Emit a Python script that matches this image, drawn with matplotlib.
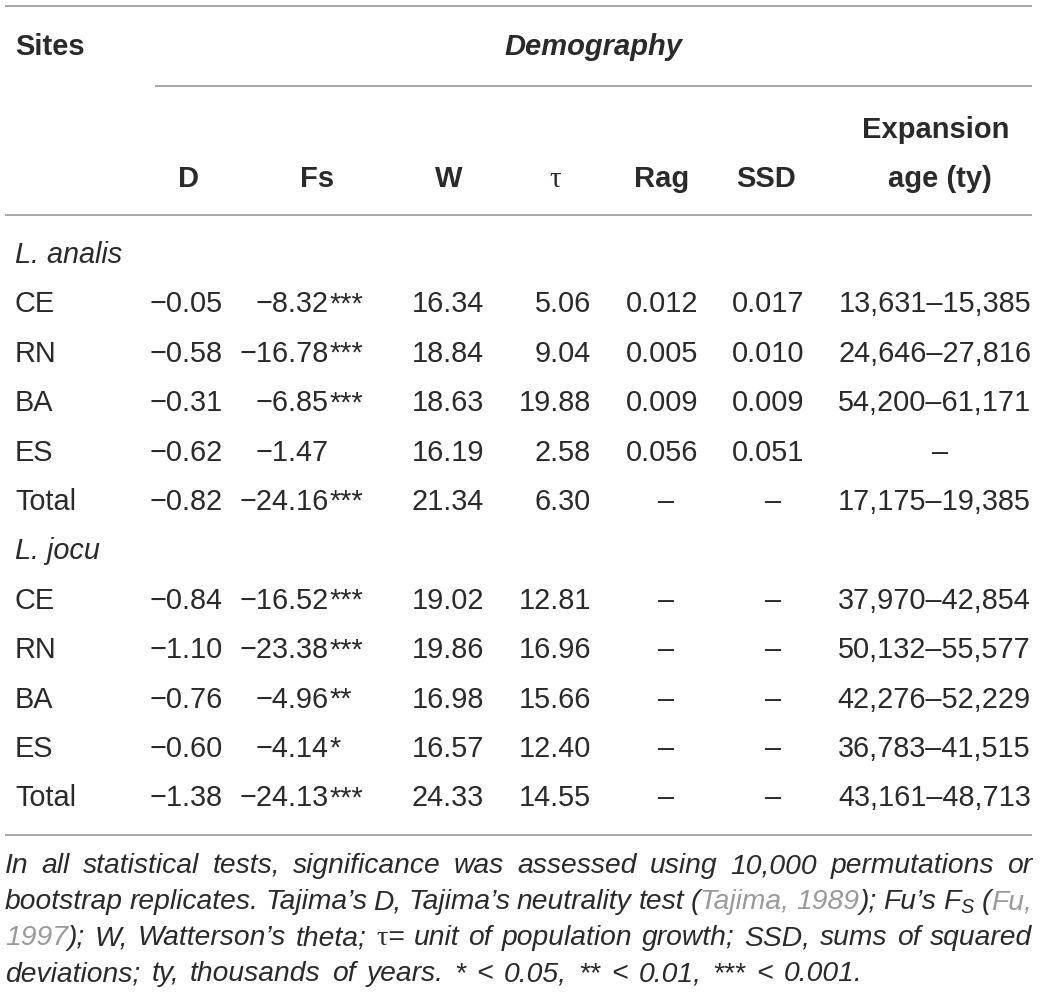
import matplotlib.pyplot as plt

plt.rcParams['font.family'] = ['Liberation Sans', 'DejaVu Sans']
plt.rcParams['mathtext.fontset'] = 'custom'
plt.rcParams['mathtext.rm'] = 'Liberation Sans:italic'
plt.rcParams['mathtext.it'] = 'Liberation Sans:italic'

# table data
groups = ['L. analis', 'L. jocu']
sites = ['CE', 'RN', 'BA', 'ES', 'Total']
tajima_d = [[-0.05, -0.58, -0.31, -0.62, -0.82],
            [-0.84, -1.10, -0.76, -0.60, -1.38]]
fu_fs = [[-8.32, -16.78, -6.85, -1.47, -24.16],
         [-16.52, -23.38, -4.96, -4.14, -24.13]]
fs_stars = [['***', '***', '***', '', '***'],
            ['***', '***', '**', '*', '***']]
watterson = [[16.34, 18.84, 18.63, 16.19, 21.34],
             [19.02, 19.86, 16.98, 16.57, 24.33]]
tau = [[5.06, 9.04, 19.88, 2.58, 6.30],
       [12.81, 16.96, 15.66, 12.40, 14.55]]
rag = [[0.012, 0.005, 0.009, 0.056, None],
       [None, None, None, None, None]]
ssd = [[0.017, 0.010, 0.009, 0.051, None],
       [None, None, None, None, None]]
expansion = [[(13631, 15385), (24646, 27816), (54200, 61171), None, (17175, 19385)],
             [(37970, 42854), (50132, 55577), (42276, 52229), (36783, 41515), (43161, 48713)]]

col_headers = ['D', 'Fs', 'W', 'τ', 'Rag', 'SSD']

INK = '#2a2a2a'
GREY = '#9a9a9a'
RULE = '#a0a0a0'
FS = 20.8      # body text
FS_HEAD = 21   # bold headers
FS_NOTE = 20.3 # footnote

fig = plt.figure(figsize=(10.41, 9.97), dpi=100)
ax = fig.add_axes([0, 0, 1, 1])
ax.set_xlim(0, 1041)
ax.set_ylim(997, 0)
ax.axis('off')


def num(v, nd=2):
    return f'{v:.{nd}f}'.replace('-', '\u2212')


# rules
for x0, y in [(5, 6), (155, 86), (5, 215), (5, 835)]:
    ax.plot([x0, 1032], [y, y], color=RULE, lw=1.3, solid_capstyle='butt')

# header
ax.text(15, 55, 'Sites', fontsize=FS_HEAD, fontweight='bold', color=INK, va='baseline')
ax.text(593, 55, 'Demography', fontsize=FS_HEAD, fontweight='bold', style='italic',
        color=INK, va='baseline', ha='center')
head_x = [188, 317, 449, 555, 662, 766]
for h, x in zip(col_headers, head_x):
    if h == 'τ':
        ax.text(x, 187, h, fontsize=FS, color=INK, ha='center', va='baseline',
                family='Liberation Serif')
    else:
        ax.text(x, 187, h, fontsize=FS_HEAD, fontweight='bold', color=INK,
                ha='center', va='baseline')
ax.text(936, 138, 'Expansion', fontsize=FS_HEAD, fontweight='bold', color=INK,
        ha='center', va='baseline')
ax.text(940, 187, 'age (ty)', fontsize=FS_HEAD, fontweight='bold', color=INK,
        ha='center', va='baseline')

# body
row_step = 49.4
y = 263
for g in range(len(groups)):
    ax.text(15, y, groups[g], fontsize=FS, style='italic', color=INK, va='baseline')
    y += row_step
    for i, s in enumerate(sites):
        kw = dict(fontsize=FS, color=INK, va='baseline')
        ax.text(15, y, s, **kw)
        ax.text(223, y, num(tajima_d[g][i]), ha='right', **kw)
        ax.text(329, y, num(fu_fs[g][i]), ha='right', **kw)
        if fs_stars[g][i]:
            ax.text(330, y, fs_stars[g][i], ha='left', **kw)
        ax.text(484, y, num(watterson[g][i]), ha='right', **kw)
        ax.text(591, y, num(tau[g][i]), ha='right', **kw)
        if rag[g][i] is None:
            ax.text(666, y, '–', ha='center', **kw)
        else:
            ax.text(698, y, num(rag[g][i], 3), ha='right', **kw)
        if ssd[g][i] is None:
            ax.text(773, y, '–', ha='center', **kw)
        else:
            ax.text(804, y, num(ssd[g][i], 3), ha='right', **kw)
        e = expansion[g][i]
        if e is None:
            ax.text(940, y, '–', ha='center', **kw)
        else:
            ax.text(1031, y, f'{e[0]:,}–{e[1]:,}', ha='right', **kw)
        y += row_step

# footnote, justified word by word
K, G = INK, GREY
note_lines = [
    [[('In', K)], [('all', K)], [('statistical', K)], [('tests,', K)],
     [('significance', K)], [('was', K)], [('assessed', K)], [('using', K)],
     [('10,000', K)], [('permutations', K)], [('or', K)]],
    [[('bootstrap', K)], [('replicates.', K)], [('Tajima’s', K)], [('D,', K)],
     [('Tajima’s', K)], [('neutrality', K)], [('test', K)],
     [('(', K), ('Tajima,', G)], [('1989', G), (');', K)], [('Fu’s', K)],
     [('F$_{\\mathregular{S}}$', K)], [('(', K), ('Fu,', G)]],
    [[('1997', G), (');', K)], [('W,', K)], [('Watterson’s', K)], [('theta;', K)],
     [('τ', 'tau'), ('=', K)], [('unit', K)], [('of', K)], [('population', K)],
     [('growth;', K)], [('SSD,', K)], [('sums', K)], [('of', K)], [('squared', K)]],
    [[('deviations;', K)], [('ty,', K)], [('thousands', K)], [('of', K)],
     [('years.', K)], [('*', K)], [('<', K)], [('0.05,', K)], [('**', K)],
     [('<', K)], [('0.01,', K)], [('***', K)], [('<', K)], [('0.001.', K)]],
]
note_y = [873, 909, 945, 981]
left, right = 5, 1032

renderer = fig.canvas.get_renderer()


def piece_kw(c):
    if c == 'tau':
        return dict(color=K, family='Liberation Serif', style='normal')
    return dict(color=c, style='italic')


def width_of(t, c):
    tx = ax.text(0, 0, t, fontsize=FS_NOTE, **piece_kw(c))
    w = tx.get_window_extent(renderer).width
    tx.remove()
    return w


space_w = width_of('a a', K) - width_of('aa', K)
for li, words in enumerate(note_lines):
    wlist = [[width_of(t, c) for t, c in w] for w in words]
    total = sum(sum(ws) for ws in wlist)
    if li < len(note_lines) - 1:
        gap = (right - left - total) / (len(words) - 1)
    else:
        gap = space_w * 1.4
    x = left
    for w, ws in zip(words, wlist):
        for (t, c), pw in zip(w, ws):
            ax.text(x, note_y[li], t, fontsize=FS_NOTE, va='baseline', **piece_kw(c))
            x += pw
        x += gap

fig.savefig('out.png', dpi=100)
